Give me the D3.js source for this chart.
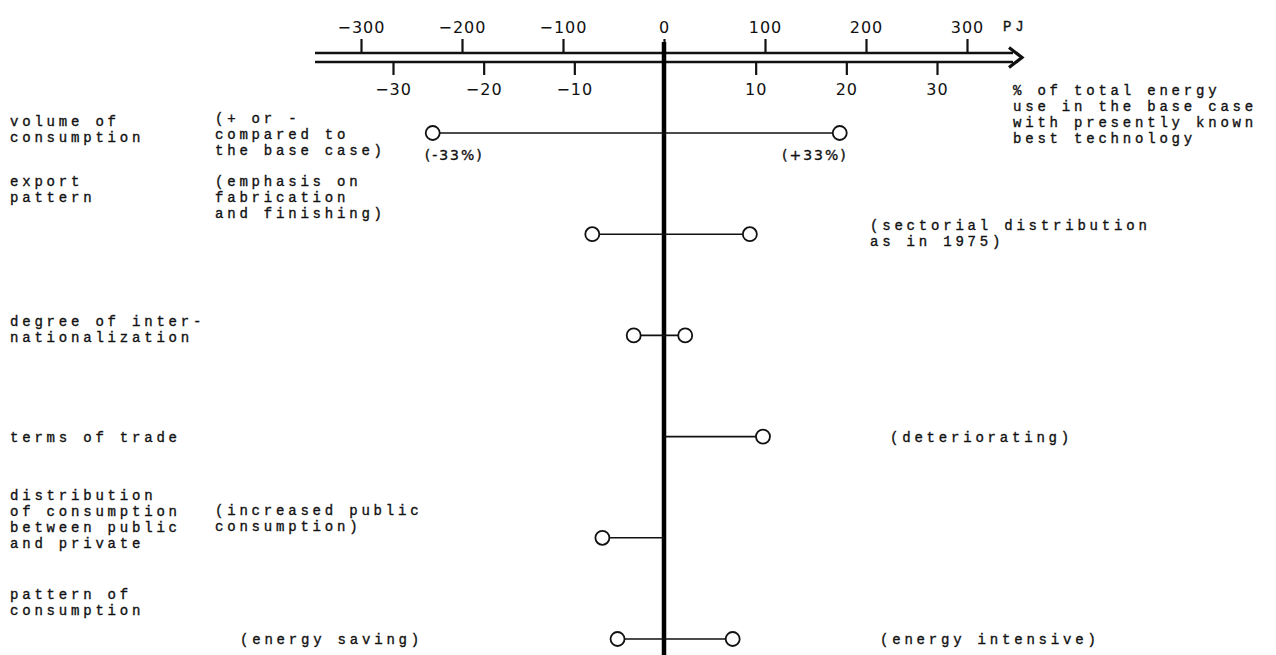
<!DOCTYPE html>
<html>
<head>
<meta charset="utf-8">
<script src="https://cdn.jsdelivr.net/npm/d3@7"></script>
<style>
  html, body { margin: 0; padding: 0; background: #fff; }
  svg { display: block; }
  .tw { font-family: "Liberation Mono", "DejaVu Sans Mono", monospace; font-size: 14px; letter-spacing: 3.8px; fill: #111; stroke: #111; stroke-width: 0.35px; }
  .ax text { font-family: "DejaVu Sans", sans-serif; font-size: 16px; letter-spacing: 1px; fill: #111; }
</style>
</head>
<body>
<script>
// ---- data ----
const categories = [
  "volume of consumption",
  "export pattern",
  "degree of internationalization",
  "terms of trade",
  "distribution of consumption between public and private",
  "pattern of consumption"
];
const lowPJ  = [-229, -71, -30, null, -61, -46];
const highPJ = [174, 85, 21, 98, null, 68];
const pjTicks  = [-300, -200, -100, 0, 100, 200, 300];
const pctTicks = [-30, -20, -10, 10, 20, 30];

// label text (lines)
const leftLabels = [
  ["volume of", "consumption"],
  ["export", "pattern"],
  ["degree of inter-", "nationalization"],
  [" terms of trade"],
  ["distribution", "of consumption", "between public", "and private"],
  ["pattern of", "consumption"]
];
const lowNotes = [
  ["(+ or -", "compared to", "the base case)"],
  ["(emphasis on", "fabrication", "and finishing)"],
  [],
  [],
  ["(increased public", "consumption)"],
  ["(energy saving)"]
];
const highNotes = [
  [],
  ["(sectorial distribution", "as in 1975)"],
  [],
  ["(deteriorating)"],
  [],
  ["(energy intensive)"]
];
const pctEndLabels = ["(-33%)", "(+33%)"];
const pctAxisTitle = ["% of total energy", "use in the base case", "with presently known", "best technology"];

// ---- layout ----
const W = 1276, H = 655;
const svg = d3.select("body").append("svg").attr("width", W).attr("height", H);

const x = d3.scaleLinear().domain([-300, 300]).range([361, 967]);
const xp = d3.scaleLinear().domain([-30, 30]).range([393, 937]);
const y = d3.scalePoint().domain(categories).range([133, 639]);

const axTopY = 53, axBotY = 62;
const lh = 16;

// top axis (PJ)
const gTop = svg.append("g").attr("class", "ax").attr("transform", `translate(0,${axTopY})`)
  .call(d3.axisTop(x).tickValues(pjTicks).tickSize(14).tickPadding(6).tickFormat(d3.format("d")));
gTop.select(".domain").remove();
gTop.selectAll(".tick line").attr("stroke", "#111").attr("stroke-width", 2.2);

// bottom axis (percent)
const gBot = svg.append("g").attr("class", "ax").attr("transform", `translate(0,${axBotY})`)
  .call(d3.axisBottom(xp).tickValues(pctTicks).tickSize(13).tickPadding(9).tickFormat(d3.format("d")));
gBot.select(".domain").remove();
gBot.selectAll(".tick line").attr("stroke", "#111").attr("stroke-width", 2.2);

// double arrow lines
const xStart = 315, xEnd = 1013;
svg.append("line").attr("x1", xStart).attr("x2", xEnd).attr("y1", axTopY).attr("y2", axTopY)
  .attr("stroke", "#111").attr("stroke-width", 2.5);
svg.append("line").attr("x1", xStart).attr("x2", xEnd).attr("y1", axBotY).attr("y2", axBotY)
  .attr("stroke", "#111").attr("stroke-width", 2.5);
const midY = (axTopY + axBotY) / 2;
svg.append("path")
  .attr("d", `M${xEnd - 4},${midY - 10} L${xEnd + 9},${midY} L${xEnd - 4},${midY + 10}`)
  .attr("fill", "none").attr("stroke", "#111").attr("stroke-width", 3.2)
  .attr("stroke-linejoin", "miter");

// PJ unit label
svg.append("text").attr("class", "tw").attr("x", 1003).attr("y", 31).text("PJ");

// thick zero line
svg.append("line").attr("x1", x(0)).attr("x2", x(0)).attr("y1", 42).attr("y2", H)
  .attr("stroke", "#000").attr("stroke-width", 4.5);

// ranges
const rows = categories.map((c, i) => ({ c, lo: lowPJ[i], hi: highPJ[i] }));
svg.append("g").selectAll("line").data(rows).join("line")
  .attr("x1", d => x(d.lo == null ? 0 : d.lo) + (d.lo == null ? 0 : 7))
  .attr("x2", d => x(d.hi == null ? 0 : d.hi) - (d.hi == null ? 0 : 7))
  .attr("y1", d => y(d.c)).attr("y2", d => y(d.c))
  .attr("stroke", "#111").attr("stroke-width", 1.6);

const pts = [];
rows.forEach(d => {
  if (d.lo != null) pts.push({ c: d.c, v: d.lo });
  if (d.hi != null) pts.push({ c: d.c, v: d.hi });
});
svg.append("g").selectAll("circle").data(pts).join("circle")
  .attr("cx", d => x(d.v)).attr("cy", d => y(d.c)).attr("r", 7)
  .attr("fill", "#fff").attr("stroke", "#111").attr("stroke-width", 1.8);

// text helper
function block(lines, x0, yBase, cls) {
  const t = svg.append("text").attr("class", cls || "tw").attr("x", x0).attr("y", yBase);
  lines.forEach((s, i) => {
    t.append("tspan").attr("x", x0).attr("y", yBase + i * lh).text(s);
  });
  return t;
}

// offsets relative to row position for first baseline
const leftOff  = [-7, -48, -9, 5, -38, -40];
const lowOff   = [-10, -48, 0, 0, -23, 5];
const lowX     = [215, 215, 0, 0, 215, 240];
const highOff  = [0, -4, 0, 5, 0, 5];
const highX    = [0, 870, 0, 890, 0, 880];

categories.forEach((c, i) => {
  block(leftLabels[i], 10, y(c) + leftOff[i]);
  if (lowNotes[i].length) block(lowNotes[i], lowX[i], y(c) + lowOff[i]);
  if (highNotes[i].length) block(highNotes[i], highX[i], y(c) + highOff[i]);
});

// percentage annotations at first row ends
const r0 = y(categories[0]);
svg.append("text").attr("class", "tw").style("font-family", "DejaVu Sans, sans-serif").style("font-size", "14px")
  .style("letter-spacing", "2px")
  .attr("x", x(lowPJ[0]) - 8).attr("y", r0 + 27).text(pctEndLabels[0]);
svg.append("text").attr("class", "tw").style("font-family", "DejaVu Sans, sans-serif").style("font-size", "14px")
  .style("letter-spacing", "2px")
  .attr("text-anchor", "end").attr("x", x(highPJ[0]) + 8).attr("y", r0 + 27).text(pctEndLabels[1]);

// percent axis title
block(pctAxisTitle, 1013, 95);
</script>
</body>
</html>
